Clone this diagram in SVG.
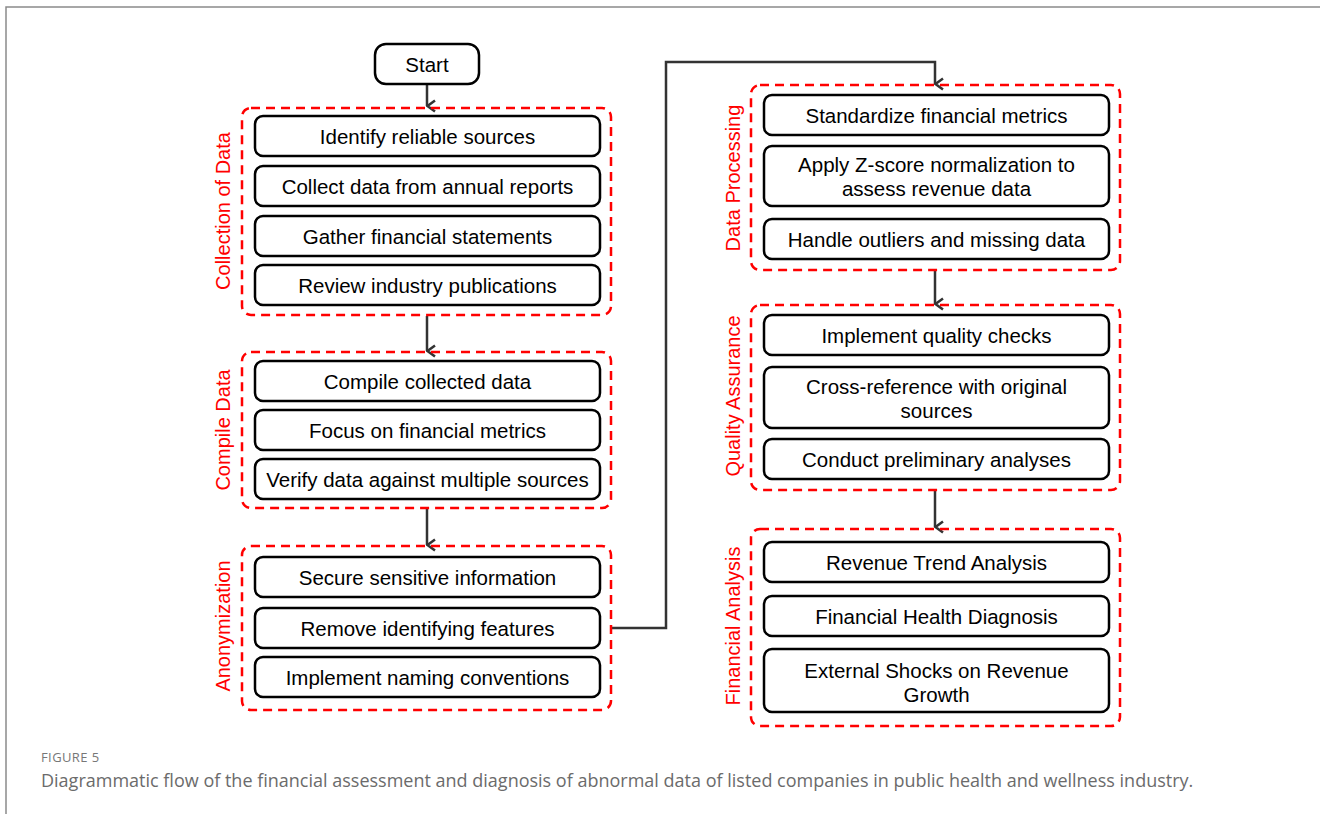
<svg xmlns="http://www.w3.org/2000/svg" width="1320" height="814" viewBox="0 0 1320 814">
<style>
.frame{fill:none;stroke:#8a8a8a;stroke-width:1.5}
.grp{fill:none;stroke:#ff0000;stroke-width:2.5;stroke-dasharray:9,6}
.box{fill:#fff;stroke:#000;stroke-width:2.5}
.t{font-family:"Liberation Sans",Arial,sans-serif;font-size:20.5px;fill:#000;text-anchor:middle}
.lbl{font-family:"Liberation Sans",Arial,sans-serif;font-size:20px;fill:#ff0000;text-anchor:middle}
.con{fill:none;stroke:#333;stroke-width:2.5}
.cap1{font-family:"Open Sans",sans-serif;font-size:13px;fill:#777;letter-spacing:0.4px}
.cap2{font-family:"Open Sans",sans-serif;font-size:18px;fill:#6b6b6b}
</style>
<defs>
<marker id="ah" viewBox="0 0 14 14" refX="7" refY="13" markerWidth="14" markerHeight="14" markerUnits="userSpaceOnUse" orient="auto-start-reverse">
<path d="M1.5,5 L7,12.5 L12.5,5" fill="none" stroke="#333" stroke-width="2.5"/>
</marker>
</defs>
<rect x="0" y="0" width="1320" height="814" fill="#fff"/>
<path class="frame" d="M6,814 V7 H1320"/>

<g id="connectors">
<line class="con" x1="427" y1="84" x2="427" y2="106" marker-end="url(#ah)"/>
<line class="con" x1="427" y1="316" x2="427" y2="351" marker-end="url(#ah)"/>
<line class="con" x1="427" y1="509" x2="427" y2="545" marker-end="url(#ah)"/>
<polyline class="con" points="612,628 666,628 666,62 935,62 935,84" marker-end="url(#ah)"/>
<line class="con" x1="935" y1="271" x2="935" y2="304" marker-end="url(#ah)"/>
<line class="con" x1="935" y1="491" x2="935" y2="527" marker-end="url(#ah)"/>
</g>

<g id="start">
<rect class="box" x="375" y="44" width="104" height="40" rx="11"/>
<text class="t" x="427" y="72">Start</text>
</g>

<g id="collection">
<rect class="grp" x="242" y="108" width="369" height="207" rx="9"/>
<text class="lbl" transform="translate(230,211) rotate(-90)">Collection of Data</text>
</g>
<g id="c1"><rect class="box" x="255" y="116" width="345" height="40" rx="8"/><text class="t" x="427.5" y="144">Identify reliable sources</text></g>
<g id="c2"><rect class="box" x="255" y="166" width="345" height="40" rx="8"/><text class="t" x="427.5" y="194">Collect data from annual reports</text></g>
<g id="c3"><rect class="box" x="255" y="216" width="345" height="40" rx="8"/><text class="t" x="427.5" y="244">Gather financial statements</text></g>
<g id="c4"><rect class="box" x="255" y="265" width="345" height="40" rx="8"/><text class="t" x="427.5" y="293">Review industry publications</text></g>

<g id="compile">
<rect class="grp" x="242" y="352" width="369" height="156" rx="9"/>
<text class="lbl" transform="translate(230,430) rotate(-90)">Compile Data</text>
</g>
<g id="p1"><rect class="box" x="255" y="361" width="345" height="40" rx="8"/><text class="t" x="427.5" y="389">Compile collected data</text></g>
<g id="p2"><rect class="box" x="255" y="410" width="345" height="40" rx="8"/><text class="t" x="427.5" y="438">Focus on financial metrics</text></g>
<g id="p3"><rect class="box" x="255" y="459" width="345" height="40" rx="8"/><text class="t" x="427.5" y="487">Verify data against multiple sources</text></g>

<g id="anon">
<rect class="grp" x="242" y="546" width="369" height="164" rx="9"/>
<text class="lbl" transform="translate(230,626) rotate(-90)">Anonymization</text>
</g>
<g id="a1"><rect class="box" x="255" y="557" width="345" height="40" rx="8"/><text class="t" x="427.5" y="585">Secure sensitive information</text></g>
<g id="a2"><rect class="box" x="255" y="608" width="345" height="40" rx="8"/><text class="t" x="427.5" y="636">Remove identifying features</text></g>
<g id="a3"><rect class="box" x="255" y="657" width="345" height="40" rx="8"/><text class="t" x="427.5" y="685">Implement naming conventions</text></g>

<g id="dataproc">
<rect class="grp" x="751" y="85" width="369" height="185" rx="9"/>
<text class="lbl" transform="translate(740,178) rotate(-90)">Data Processing</text>
</g>
<g id="d1"><rect class="box" x="764" y="95" width="345" height="40" rx="8"/><text class="t" x="936.5" y="123">Standardize financial metrics</text></g>
<g id="d2"><rect class="box" x="764" y="146" width="345" height="60" rx="8"/><text class="t" x="936.5" y="172">Apply Z-score normalization to</text><text class="t" x="936.5" y="196">assess revenue data</text></g>
<g id="d3"><rect class="box" x="764" y="219" width="345" height="40" rx="8"/><text class="t" x="936.5" y="247">Handle outliers and missing data</text></g>

<g id="qa">
<rect class="grp" x="751" y="305" width="369" height="185" rx="9"/>
<text class="lbl" transform="translate(740,396) rotate(-90)">Quality Assurance</text>
</g>
<g id="q1"><rect class="box" x="764" y="315" width="345" height="40" rx="8"/><text class="t" x="936.5" y="343">Implement quality checks</text></g>
<g id="q2"><rect class="box" x="764" y="367" width="345" height="61" rx="8"/><text class="t" x="936.5" y="394">Cross-reference with original</text><text class="t" x="936.5" y="418">sources</text></g>
<g id="q3"><rect class="box" x="764" y="439" width="345" height="40" rx="8"/><text class="t" x="936.5" y="467">Conduct preliminary analyses</text></g>

<g id="fa">
<rect class="grp" x="751" y="529" width="369" height="197" rx="9"/>
<text class="lbl" transform="translate(740,626) rotate(-90)">Financial Analysis</text>
</g>
<g id="f1"><rect class="box" x="764" y="542" width="345" height="40" rx="8"/><text class="t" x="936.5" y="570">Revenue Trend Analysis</text></g>
<g id="f2"><rect class="box" x="764" y="596" width="345" height="40" rx="8"/><text class="t" x="936.5" y="624">Financial Health Diagnosis</text></g>
<g id="f3"><rect class="box" x="764" y="649" width="345" height="63" rx="8"/><text class="t" x="936.5" y="678">External Shocks on Revenue</text><text class="t" x="936.5" y="702">Growth</text></g>

<text class="cap1" x="41" y="762">FIGURE 5</text>
<text class="cap2" x="41" y="787">Diagrammatic flow of the financial assessment and diagnosis of abnormal data of listed companies in public health and wellness industry.</text>
</svg>
